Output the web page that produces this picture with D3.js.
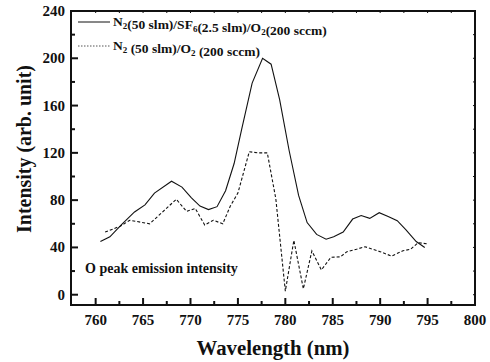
<!DOCTYPE html>
<html>
<head>
<meta charset="utf-8">
<script src="https://cdn.jsdelivr.net/npm/d3@7"></script>
<style>
	body { margin: 0; background: #fff; }
</style>
</head>
<body>
<div id="chart"></div>
<script>
// N2/SF6/O2 series (solid)
var mixWavelength = [760.5, 761.5, 762.7, 764.1, 765.2, 766.2, 768.0, 769.1, 770.1, 771.0, 771.9, 772.8,
	773.7, 774.6, 775.4, 776.5, 777.6, 778.5, 779.4, 780.4, 781.4, 782.3, 783.3, 784.3, 785.1, 786.1,
	787.1, 788.0, 788.9, 789.9, 790.9, 791.8, 792.7, 793.8, 794.7];
var mixIntensity = [45, 49, 59, 70, 76, 86, 96, 91, 82, 75, 72, 74.5,
	88, 111, 140, 179, 200, 195, 165, 122, 84, 61, 51, 47, 49, 53,
	64, 67, 64.6, 69.4, 66, 62.6, 55, 45, 40];

// N2/O2 series (dashed)
var refWavelength = [761.0, 762.6, 763.6, 765.7, 768.5, 769.6, 770.5, 771.5, 772.4, 773.4, 774.2, 775.0,
	776.2, 777.1, 778.1, 779.0, 780.0, 780.9, 781.9, 782.8, 783.8, 784.8, 785.8, 786.5, 787.5, 788.4,
	789.2, 790.0, 791.2, 792.4, 793.2, 794.0, 795.1];
var refIntensity = [53, 58, 63, 60, 80.7, 70.5, 73, 59, 63, 60, 75, 86,
	121, 120, 120, 81, 3, 46, 5, 37, 21, 31.6, 32, 36.4, 38.5, 40.6,
	38.5, 36.4, 32.7, 37.2, 38.4, 44, 42.9];

var xTicks = [760, 765, 770, 775, 780, 785, 790, 795, 800];
var yTicks = [0, 40, 80, 120, 160, 200, 240];

var width = 490, height = 362;
var box = {left: 71, right: 475, top: 11, bottom: 305};

var x = d3.scaleLinear()
	.domain([757.4, 800])
	.range([box.left, box.right]);
var y = d3.scaleLinear()
	.domain([-8.7, 240])
	.range([box.bottom, box.top]);

var svg = d3.select("#chart").append("svg")
	.attr("width", width)
	.attr("height", height)
	.attr("font-family", "'Liberation Serif', 'DejaVu Serif', serif")
	.attr("font-weight", "bold")
	.attr("fill", "#111");

// minor ticks sit halfway between the major ones
var xMinor = xTicks.slice(0, -1).map(function(d){ return d + 2.5; });
var yMinor = yTicks.slice(0, -1).map(function(d){ return d + 20; });

function drawTicks(g, vals, len, horizontal){
	g.selectAll("line.t" + len)
		.data(vals)
		.enter().append("line")
		.attr("x1", function(d){ return horizontal ? x(d) : box.left; })
		.attr("x2", function(d){ return horizontal ? x(d) : box.left + len; })
		.attr("y1", function(d){ return horizontal ? box.bottom : y(d); })
		.attr("y2", function(d){ return horizontal ? box.bottom - len : y(d); })
		.attr("stroke", "#111")
		.attr("stroke-width", 2);
}

var axes = svg.append("g");
drawTicks(axes, xTicks, 7, true);
drawTicks(axes, xMinor, 4, true);
drawTicks(axes, yTicks, 7, false);
drawTicks(axes, yMinor, 4, false);

// small mirror ticks on top and right
axes.selectAll("line.top")
	.data(xTicks.concat(xMinor))
	.enter().append("line")
	.attr("x1", function(d){ return x(d); })
	.attr("x2", function(d){ return x(d); })
	.attr("y1", box.top)
	.attr("y2", box.top + 2)
	.attr("stroke", "#111");
axes.selectAll("line.right")
	.data(yTicks.concat(yMinor))
	.enter().append("line")
	.attr("x1", box.right)
	.attr("x2", box.right - 2)
	.attr("y1", function(d){ return y(d); })
	.attr("y2", function(d){ return y(d); })
	.attr("stroke", "#111");

// frame
svg.append("rect")
	.attr("x", box.left)
	.attr("y", box.top)
	.attr("width", box.right - box.left)
	.attr("height", box.bottom - box.top)
	.attr("fill", "none")
	.attr("stroke", "#111")
	.attr("stroke-width", 2);

// tick labels
svg.selectAll("text.xl")
	.data(xTicks)
	.enter().append("text")
	.attr("x", function(d){ return x(d); })
	.attr("y", 325)
	.attr("text-anchor", "middle")
	.attr("font-size", "15px")
	.text(function(d){ return d; });
svg.selectAll("text.yl")
	.data(yTicks)
	.enter().append("text")
	.attr("x", 65)
	.attr("y", function(d){ return y(d) + 5; })
	.attr("text-anchor", "end")
	.attr("font-size", "15px")
	.text(function(d){ return d; });

// axis titles, sized to the span they take in the original
function fitText(sel, target){
	var len = sel.node().getComputedTextLength();
	var size = parseFloat(sel.attr("font-size"));
	sel.attr("font-size", (size * target / len).toFixed(2) + "px");
}

var xTitle = svg.append("text")
	.attr("x", 273)
	.attr("y", 355)
	.attr("text-anchor", "middle")
	.attr("font-size", "20px")
	.text("Wavelength (nm)");
fitText(xTitle, 153);

var yTitle = svg.append("text")
	.attr("transform", "translate(31,149) rotate(-90)")
	.attr("text-anchor", "middle")
	.attr("font-size", "20px")
	.text("Intensity (arb. unit)");
fitText(yTitle, 168);

// series
var line = d3.line()
	.x(function(d){ return x(d[0]); })
	.y(function(d){ return y(d[1]); });

svg.append("path")
	.datum(d3.zip(mixWavelength, mixIntensity))
	.attr("d", line)
	.attr("fill", "none")
	.attr("stroke", "#111")
	.attr("stroke-width", 1.1);
svg.append("path")
	.datum(d3.zip(refWavelength, refIntensity))
	.attr("d", line)
	.attr("fill", "none")
	.attr("stroke", "#111")
	.attr("stroke-width", 1.1)
	.attr("stroke-dasharray", "3,2");

// legend
function legendText(yPos, parts){
	var t = svg.append("text")
		.attr("x", 113)
		.attr("y", yPos + 4)
		.attr("font-size", "13.5px");
	parts.forEach(function(p){
		if(p.sub){
			t.append("tspan").attr("font-size", "9px").attr("dy", 3).text(p.sub);
			t.append("tspan").attr("dy", -3).text("");
		} else {
			t.append("tspan").text(p.txt);
		}
	});
}

svg.append("line")
	.attr("x1", 78).attr("x2", 110)
	.attr("y1", 22).attr("y2", 22)
	.attr("stroke", "#111");
legendText(22, [{txt: "N"}, {sub: "2"}, {txt: "(50 slm)/SF"}, {sub: "6"}, {txt: "(2.5 slm)/O"}, {sub: "2"}, {txt: "(200 sccm)"}]);

svg.append("line")
	.attr("x1", 78).attr("x2", 110)
	.attr("y1", 46).attr("y2", 46)
	.attr("stroke", "#555")
	.attr("stroke-dasharray", "1.5,1.5");
legendText(46, [{txt: "N"}, {sub: "2"}, {txt: " (50 slm)/O"}, {sub: "2"}, {txt: " (200 sccm)"}]);

svg.append("text")
	.attr("x", 85)
	.attr("y", 273)
	.attr("font-size", "14px")
	.text("O peak emission intensity");
</script>
</body>
</html>
